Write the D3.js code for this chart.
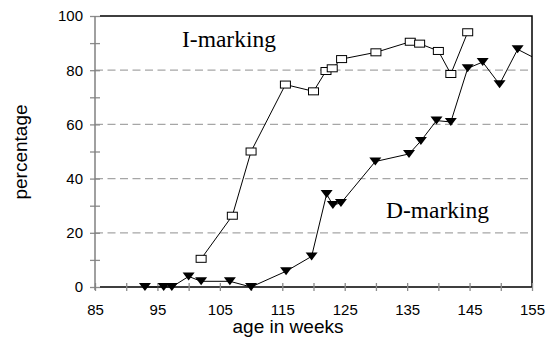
<!DOCTYPE html>
<html>
<head>
<meta charset="utf-8">
<script src="https://cdn.jsdelivr.net/npm/d3@7"></script>
<style>
  body { margin: 0; background: #fff; }
  text { font-family: "Liberation Sans", Arial, sans-serif; }
</style>
</head>
<body>
<script>
// I-marking (open squares)
var iWeeks = [102, 107, 110, 115.5, 120, 122, 123, 124.5, 130, 135.5, 137, 140, 142, 144.7];
var iPct   = [10.4, 26.3, 50, 74.7, 72.2, 79.7, 80.7, 84.1, 86.6, 90.5, 89.8, 87.1, 78.6, 94];

// D-marking (filled triangles), last point runs off the right edge
var dWeeks = [93, 96, 97.3, 100, 102, 106.6, 110, 115.6, 119.7, 122.1, 123.1, 124.4, 129.9, 135.3, 137.2, 139.7, 142, 144.7, 147.1, 149.8, 152.7, 157];
var dPct   = [0, 0, 0, 3.9, 2.1, 2.1, 0, 5.8, 11.3, 34.3, 30.3, 31, 46.3, 49.1, 53.9, 61.4, 60.9, 80.7, 83, 74.8, 87.7, 82.6];

var xTicks = [85, 95, 105, 115, 125, 135, 145, 155];
var yTicks = [0, 20, 40, 60, 80, 100];
var gridVals = [20, 40, 60, 80];

var width = 546, height = 339;
var pLeft = 95, pRight = 532, pTop = 16, pBottom = 287;

var svg = d3.select("body").append("svg")
  .attr("width", width)
  .attr("height", height);

var x = d3.scaleLinear().domain([85, 155]).range([pLeft, pRight]);
var y = d3.scaleLinear().domain([0, 100]).range([pBottom, pTop]);

svg.append("clipPath").attr("id", "clip")
  .append("rect")
  .attr("x", pLeft).attr("y", pTop - 10)
  .attr("width", pRight - pLeft).attr("height", pBottom - pTop + 20);

// dashed grid
svg.selectAll(".grid")
  .data(gridVals)
  .enter()
  .append("line")
  .attr("x1", pLeft).attr("x2", pRight)
  .attr("y1", function(d) { return y(d); })
  .attr("y2", function(d) { return y(d); })
  .attr("stroke", "#a6a6a6")
  .attr("stroke-width", 1.3)
  .attr("stroke-dasharray", "8,4.5");

// frame: top, right, bottom black
svg.append("path")
  .attr("d", "M" + (pLeft + 5) + "," + pTop + "H" + pRight + "V" + pBottom + "H" + (pLeft + 5))
  .attr("fill", "none")
  .attr("stroke", "#000")
  .attr("stroke-width", 1.5);

// x axis ticks (crossing)
var xAxis = d3.axisBottom(x)
  .tickValues(d3.range(85, 156, 5))
  .tickSize(0)
  .tickFormat(function(d) { return xTicks.indexOf(d) >= 0 ? d : ""; });

var gx = svg.append("g")
  .attr("transform", "translate(0," + pBottom + ")")
  .call(xAxis);
gx.select(".domain").remove();
gx.selectAll(".tick line").remove();
gx.selectAll(".tick").append("line")
  .attr("y1", -4).attr("y2", 4)
  .attr("stroke", "#8c8c8c")
  .attr("stroke-width", 1.3);
gx.selectAll(".tick text")
  .attr("y", 17)
  .attr("fill", "#000")
  .style("font-size", "15px");

// y axis
var yAxis = d3.axisLeft(y)
  .tickValues(d3.range(0, 101, 10))
  .tickSize(0)
  .tickFormat(function(d) { return yTicks.indexOf(d) >= 0 ? d : ""; });

var gy = svg.append("g")
  .attr("transform", "translate(" + pLeft + ",0)")
  .call(yAxis);
gy.select(".domain").remove();
gy.selectAll(".tick line").remove();
gy.selectAll(".tick").append("line")
  .attr("x1", -5).attr("x2", 5)
  .attr("stroke", "#8c8c8c")
  .attr("stroke-width", 1.3);
gy.selectAll(".tick text")
  .attr("x", -12)
  .attr("fill", "#000")
  .style("font-size", "15px");

svg.append("line")
  .attr("x1", pLeft).attr("x2", pLeft)
  .attr("y1", pTop).attr("y2", pBottom + 3)
  .attr("stroke", "#808080")
  .attr("stroke-width", 1.5);

// series
var iData = iWeeks.map(function(w, k) { return [w, iPct[k]]; });
var dData = dWeeks.map(function(w, k) { return [w, dPct[k]]; });

var line = d3.line()
  .x(function(d) { return x(d[0]); })
  .y(function(d) { return y(d[1]); });

var plot = svg.append("g").attr("clip-path", "url(#clip)");

plot.append("path")
  .attr("d", line(iData))
  .attr("fill", "none")
  .attr("stroke", "#000")
  .attr("stroke-width", 1);

plot.append("path")
  .attr("d", line(dData))
  .attr("fill", "none")
  .attr("stroke", "#000")
  .attr("stroke-width", 1);

plot.selectAll(".sq")
  .data(iData)
  .enter()
  .append("rect")
  .attr("x", function(d) { return x(d[0]) - 5; })
  .attr("y", function(d) { return y(d[1]) - 3.5; })
  .attr("width", 10)
  .attr("height", 7)
  .attr("fill", "#fff")
  .attr("stroke", "#000")
  .attr("stroke-width", 1);

plot.selectAll(".tri")
  .data(dData.filter(function(d) { return d[0] <= 155; }))
  .enter()
  .append("path")
  .attr("d", function(d) {
    var cx = x(d[0]), cy = y(d[1]);
    return "M" + (cx - 6) + "," + (cy - 4) + "L" + (cx + 6) + "," + (cy - 4) + "L" + cx + "," + (cy + 4) + "Z";
  })
  .attr("fill", "#000");

// labels
svg.append("text")
  .attr("x", 182).attr("y", 47)
  .style("font-family", "'Liberation Serif', 'Times New Roman', serif")
  .style("font-size", "23.5px")
  .text("I-marking");

svg.append("text")
  .attr("x", 386).attr("y", 218)
  .style("font-family", "'Liberation Serif', 'Times New Roman', serif")
  .style("font-size", "23.5px")
  .text("D-marking");

svg.append("text")
  .attr("x", 288).attr("y", 333)
  .attr("text-anchor", "middle")
  .style("font-size", "19px")
  .text("age in weeks");

svg.append("text")
  .attr("transform", "translate(27,152) rotate(-90)")
  .attr("text-anchor", "middle")
  .style("font-size", "19px")
  .text("percentage");
</script>
</body>
</html>
